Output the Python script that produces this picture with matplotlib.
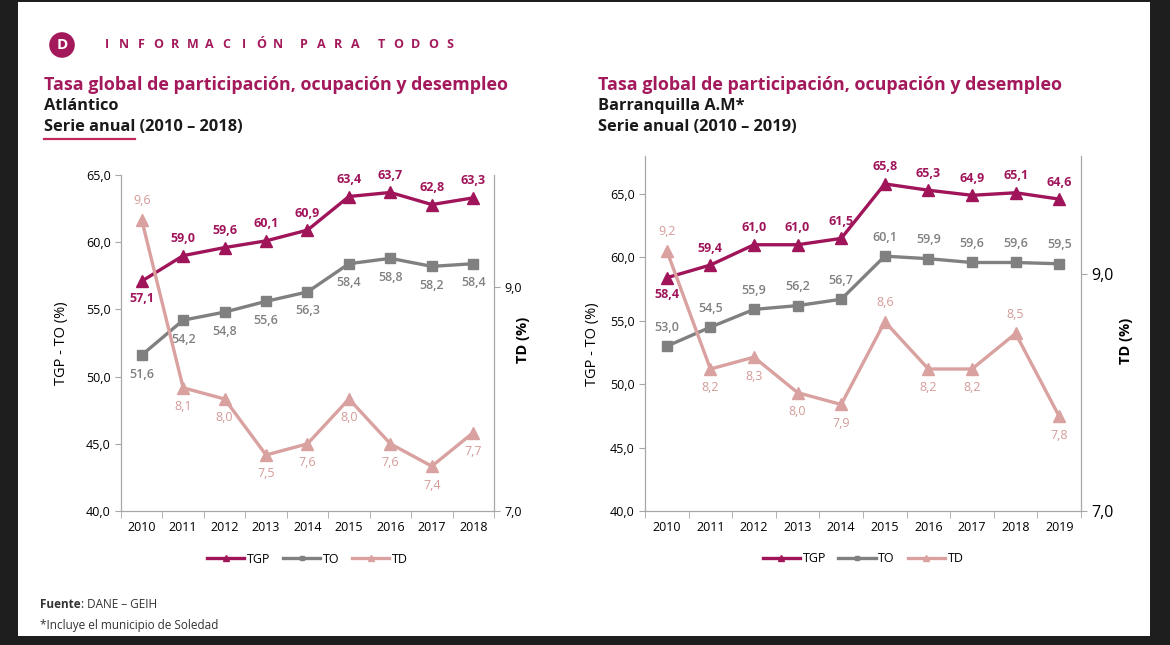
import numpy as np
import matplotlib.pyplot as plt
from matplotlib.patches import Rectangle
from matplotlib.lines import Line2D

plt.rcParams['font.family'] = ['Open Sans', 'DejaVu Sans']

# data - Atlántico
years_atl = [2010, 2011, 2012, 2013, 2014, 2015, 2016, 2017, 2018]
tgp_atl = [57.1, 59.0, 59.6, 60.1, 60.9, 63.4, 63.7, 62.8, 63.3]
to_atl = [51.6, 54.2, 54.8, 55.6, 56.3, 58.4, 58.8, 58.2, 58.4]
td_atl = [9.6, 8.1, 8.0, 7.5, 7.6, 8.0, 7.6, 7.4, 7.7]

# data - Barranquilla A.M
years_baq = [2010, 2011, 2012, 2013, 2014, 2015, 2016, 2017, 2018, 2019]
tgp_baq = [58.4, 59.4, 61.0, 61.0, 61.5, 65.8, 65.3, 64.9, 65.1, 64.6]
to_baq = [53.0, 54.5, 55.9, 56.2, 56.7, 60.1, 59.9, 59.6, 59.6, 59.5]
td_baq = [9.2, 8.2, 8.3, 8.0, 7.9, 8.6, 8.2, 8.2, 8.5, 7.8]

# label side (1 above, -1 below)
tgp_side_atl = [-1, 1, 1, 1, 1, 1, 1, 1, 1]
to_side_atl = [-1] * 9
td_side_atl = [1, -1, -1, -1, -1, -1, -1, -1, -1]
tgp_side_baq = [-1, 1, 1, 1, 1, 1, 1, 1, 1, 1]
to_side_baq = [1] * 10
td_side_baq = [1, -1, -1, -1, -1, 1, -1, -1, 1, -1]

MAG = '#A3195B'
C_TGP = '#A0155A'
C_TO = '#808080'
C_TD = '#D9A19F'
C_TD_TXT = '#D49A98'
SPINE = '#A6A6A6'
W, H = 1170, 645


def fmt(v):
    return f'{v:.1f}'.replace('.', ',')


def fx(px):
    return px / W


def fy(py):
    return 1 - py / H


def label_points(ax, x, vals, sides, color, weight, off=16):
    for xi, v, s in zip(x, vals, sides):
        ax.annotate(fmt(v), (xi, v), xytext=(0, s * off), textcoords='offset pixels',
                    ha='center', va='center', fontsize=9, color=color, fontweight=weight)


def panel(ax, years, tgp, to, td, sides, ylim, right_fs):
    x = np.arange(len(years))
    l1, = ax.plot(x, tgp, color=C_TGP, lw=2.4, marker='^', ms=9, label='TGP')
    l2, = ax.plot(x, to, color=C_TO, lw=2.4, marker='s', ms=6.5, label='TO')
    ax2 = ax.twinx()
    l3, = ax2.plot(x, td, color=C_TD, lw=2.4, marker='^', ms=8.5, label='TD')

    label_points(ax, x, tgp, sides[0], C_TGP, 'bold', off=17)
    label_points(ax, x, to, sides[1], C_TO, 'semibold', off=19)
    label_points(ax2, x, td, sides[2], C_TD_TXT, 'normal', off=19)

    ax.set_xlim(-0.5, len(x) - 0.5)
    ax.set_ylim(*ylim)
    ax.set_yticks(np.arange(40, 66, 5))
    ax.set_yticklabels([fmt(t) for t in np.arange(40, 66, 5)], fontsize=9)
    ax.set_xticks(x)
    ax.set_xticklabels([str(y) for y in years], fontsize=9)
    ax.set_xticks(np.arange(-0.5, len(x), 1), minor=True)
    ax.tick_params(axis='x', which='major', length=0, pad=7)
    ax.tick_params(axis='x', which='minor', length=5, color=SPINE)
    ax.tick_params(axis='y', length=4, color=SPINE)

    ax2.set_ylim(7, 10)
    ax2.set_yticks([7, 9])
    ax2.set_yticklabels(['7,0', '9,0'], fontsize=right_fs)
    ax2.tick_params(axis='y', length=4, color=SPINE)

    for a in (ax, ax2):
        a.spines['top'].set_visible(False)
        for s in ('left', 'right', 'bottom'):
            a.spines[s].set_color(SPINE)

    ax.set_ylabel('TGP - TO (%)', fontsize=10.5)
    ax2.set_ylabel('TD (%)', fontsize=10.5, fontweight='bold', rotation=90)
    return ax2, [l1, l2, l3]


fig = plt.figure(figsize=(11.7, 6.45), dpi=100, facecolor='#1E1E1E')
fig.patches.append(Rectangle((fx(18), fy(636)), fx(1150) - fx(18), fy(2) - fy(636),
                             transform=fig.transFigure, facecolor='white', edgecolor='none',
                             zorder=-10))

# left panel
axL = fig.add_axes([fx(121), fy(511), fx(494) - fx(121), fy(175) - fy(511)])
axL2, hL = panel(axL, years_atl, tgp_atl, to_atl, td_atl,
                 (tgp_side_atl, to_side_atl, td_side_atl), (40, 65), 9)
axL.yaxis.set_label_coords(-0.139, 0.5)
axL2.yaxis.set_label_coords(1.059, 0.51)
axL.legend(hL, ['TGP', 'TO', 'TD'], loc='center', bbox_to_anchor=(0.5, -0.143), ncol=3,
           frameon=False, fontsize=9, handlelength=3.0, handletextpad=0.2,
           columnspacing=1.0, markerscale=0.55)

# right panel
axR = fig.add_axes([fx(645), fy(511), fx(1081) - fx(645), fy(156) - fy(511)])
axR2, hR = panel(axR, years_baq, tgp_baq, to_baq, td_baq,
                 (tgp_side_baq, to_side_baq, td_side_baq), (40, 68), 11.5)
axR.yaxis.set_label_coords(-0.103, 0.47)
axR2.yaxis.set_label_coords(1.087, 0.48)
axR.legend(hR, ['TGP', 'TO', 'TD'], loc='center', bbox_to_anchor=(0.5, -0.135), ncol=3,
           frameon=False, fontsize=9, handlelength=3.0, handletextpad=0.2,
           columnspacing=1.0, markerscale=0.55)

# header: logo + letter-spaced tagline
fig.text(fx(62), fy(45), 'D', ha='center', va='center', color='white', fontsize=11,
         fontweight='bold', bbox=dict(boxstyle='circle,pad=0.38', fc=MAG, ec='none'))
cx = 107
for word in ['INFORMACIÓN', 'PARA', 'TODOS']:
    for ch in word:
        fig.text(fx(cx), fy(45), ch, ha='center', va='center', color=MAG,
                 fontsize=9, fontweight='bold')
        cx += 17.1
    cx += 9

# titles
for x0, sub, serie in [(44, 'Atlántico', 'Serie anual (2010 – 2018)'),
                       (598, 'Barranquilla A.M*', 'Serie anual (2010 – 2019)')]:
    fig.text(fx(x0), fy(85), 'Tasa global de participación, ocupación y desempleo',
             ha='left', va='center', color=MAG, fontsize=12.9, fontweight='bold')
    fig.text(fx(x0), fy(106), sub, ha='left', va='center', color='#1A1A1A',
             fontsize=11.8, fontweight='bold')
    fig.text(fx(x0), fy(127), serie, ha='left', va='center', color='#1A1A1A',
             fontsize=11.8, fontweight='bold')

# underline under "Serie anual" (left only)
fig.canvas.draw()
rend = fig.canvas.get_renderer()
tmp = fig.text(fx(44), fy(127), 'Serie anual', fontsize=11.8, fontweight='bold', alpha=0)
bb = tmp.get_window_extent(rend)
tmp.remove()
fig.lines.append(Line2D([fx(44), bb.x1 / W], [fy(139), fy(139)], transform=fig.transFigure,
                        color='#C0285F', lw=1.6))

# footer
t1 = fig.text(fx(40), fy(605), 'Fuente', ha='left', va='center', fontsize=8.5,
              fontweight='bold', color='#333333')
bb = t1.get_window_extent(rend)
fig.text(bb.x1 / W, fy(605), ': DANE – GEIH', ha='left', va='center', fontsize=8.5, color='#333333')
fig.text(fx(40), fy(625), '*Incluye el municipio de Soledad', ha='left', va='center',
         fontsize=8.5, color='#333333')

fig.savefig('out.png', dpi=100, facecolor=fig.get_facecolor())
